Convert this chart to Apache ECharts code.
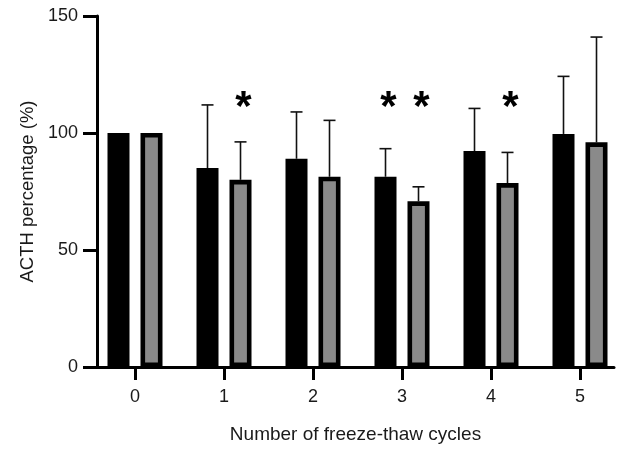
<!DOCTYPE html>
<html>
<head>
<meta charset="utf-8">
<script src="https://cdn.jsdelivr.net/npm/echarts@6/dist/echarts.min.js"></script>
<style>
  html, body { margin: 0; padding: 0; background: #fff; }
  #chart { width: 625px; height: 449px; }
</style>
</head>
<body>
<div id="chart"></div>
<script>
// freeze-thaw cycles
var cycles = [0, 1, 2, 3, 4, 5];
// first group (black bars): mean and upper SD
var blackMean = [100, 85, 89, 81.3, 92.3, 99.6];
var blackSd = [0, 27, 20, 12, 18.2, 24.6];
// second group (grey bars)
var greyMean = [100, 80, 81.3, 70.8, 78.6, 96];
var greySd = [0, 16.2, 24.1, 6.2, 13.1, 45];
// significance marks: [cycle, group]
var stars = [[1, 'grey'], [3, 'black'], [3, 'grey'], [4, 'grey']];

var STAR_Y = 110.5;
var BAR_W = 22;
var OFFSET = { black: -16.5, grey: 16.5 };
var FONT = 'Liberation Sans, Arial, sans-serif';

function pack(mean, sd) {
  return cycles.map(function (c, i) { return [c, mean[i], sd[i]]; });
}

function barRenderer(offset, fill, lw) {
  return function (params, api) {
    var x = api.value(0), v = api.value(1), sd = api.value(2);
    var top = api.coord([x, v]);
    var base = api.coord([x, 0]);
    var errTop = api.coord([x, v + sd]);
    var cx = top[0] + offset;
    var children = [];
    if (sd > 0) {
      children.push({
        type: 'line',
        shape: { x1: cx, y1: top[1], x2: cx, y2: errTop[1] },
        style: { stroke: '#111', lineWidth: 1.6 }
      });
      children.push({
        type: 'line',
        shape: { x1: cx - 6, y1: errTop[1], x2: cx + 6, y2: errTop[1] },
        style: { stroke: '#111', lineWidth: 1.6 }
      });
    }
    children.push({
      type: 'rect',
      shape: {
        x: cx - BAR_W / 2 + lw / 2,
        y: top[1] + lw / 2,
        width: BAR_W - lw,
        height: base[1] - top[1] - lw
      },
      style: { fill: fill, stroke: '#000', lineWidth: lw }
    });
    return { type: 'group', children: children };
  };
}

var chart = echarts.init(document.getElementById('chart'));
chart.setOption({
  animation: false,
  backgroundColor: '#fff',
  grid: { left: 97, right: 11, top: 16, bottom: 82 },
  xAxis: {
    type: 'value',
    min: -0.427,
    max: 5.382,
    name: 'Number of freeze-thaw cycles',
    nameLocation: 'middle',
    nameGap: 58,
    nameTextStyle: { fontSize: 19, color: '#1a1a1a', fontFamily: FONT },
    splitLine: { show: false },
    axisLine: { show: true, onZero: false, lineStyle: { color: '#000', width: 3 } },
    axisTick: { show: true, length: 13, customValues: cycles, lineStyle: { color: '#000', width: 3 } },
    axisLabel: { customValues: cycles, margin: 21, fontSize: 18, color: '#1a1a1a', fontFamily: FONT }
  },
  yAxis: {
    type: 'value',
    min: 0,
    max: 150,
    interval: 50,
    name: 'ACTH percentage (%)',
    nameLocation: 'middle',
    nameGap: 56,
    nameTextStyle: { fontSize: 18.5, color: '#1a1a1a', fontFamily: FONT },
    splitLine: { show: false },
    axisLine: { show: true, onZero: false, lineStyle: { color: '#000', width: 3 } },
    axisTick: { show: true, length: 14, lineStyle: { color: '#000', width: 3 } },
    axisLabel: { margin: 19, fontSize: 18, color: '#1a1a1a', fontFamily: FONT }
  },
  series: [
    {
      type: 'custom',
      name: 'black',
      renderItem: barRenderer(OFFSET.black, '#000', 2),
      data: pack(blackMean, blackSd),
      z: 3
    },
    {
      type: 'custom',
      name: 'grey',
      renderItem: barRenderer(OFFSET.grey, '#8a8a8a', 4.6),
      data: pack(greyMean, greySd),
      z: 3
    },
    {
      type: 'custom',
      name: 'stars',
      renderItem: function (params, api) {
        var p = api.coord([api.value(0), STAR_Y]);
        var group = stars[params.dataIndex][1];
        return {
          type: 'text',
          x: p[0] + OFFSET[group] + 3,
          y: p[1],
          style: {
            text: '*',
            fontSize: 42,
            fontWeight: 'bold',
            fontFamily: FONT,
            fill: '#000',
            align: 'center',
            verticalAlign: 'middle'
          }
        };
      },
      data: stars.map(function (s) { return [s[0]]; }),
      z: 4
    }
  ]
});
</script>
</body>
</html>
